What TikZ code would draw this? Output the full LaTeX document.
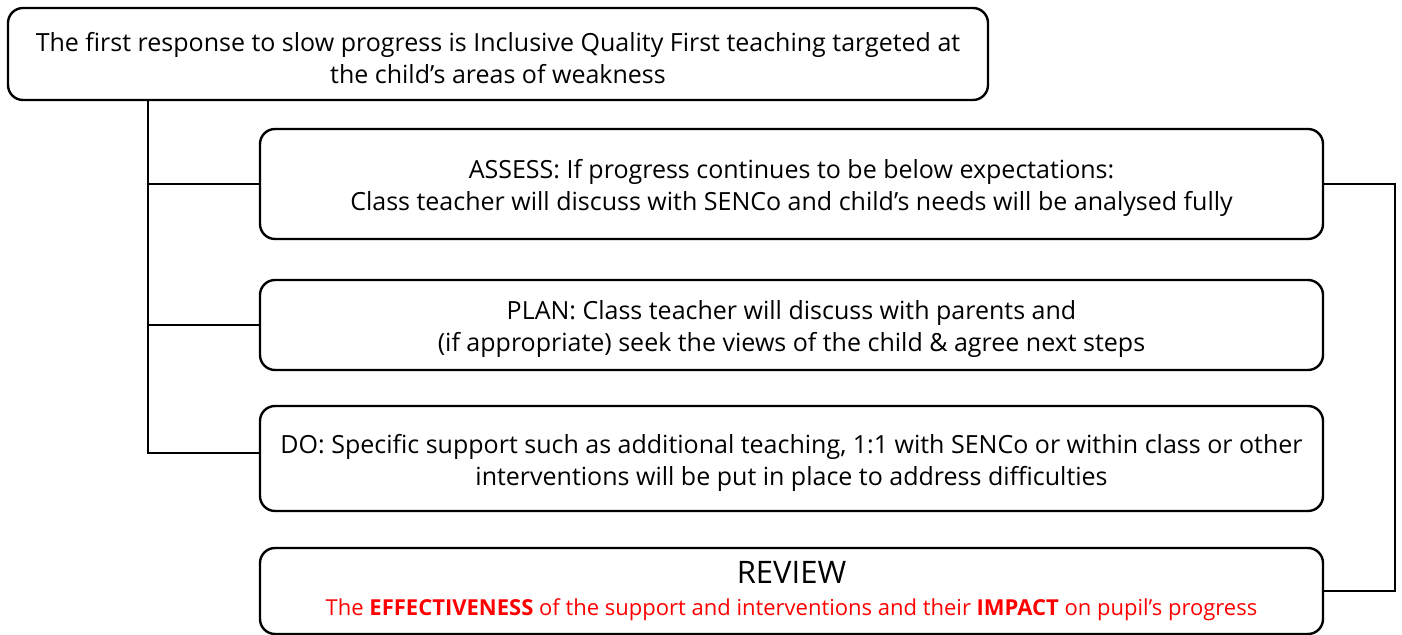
\documentclass[tikz,border=0pt]{standalone}
\usepackage{fontspec}
\setmainfont{Open Sans}
\usetikzlibrary{positioning}

\begin{document}
\begin{tikzpicture}[
    x=0.5pt, y=-0.5pt,
    stage/.style={rectangle, draw=black, line width=1.2pt, rounded corners=7.5pt,
        minimum width=531.5pt, align=center, text=black,
        font=\fontsize{12.5}{16}\selectfont},
    lowered/.style={text height=30pt},
    link/.style={draw=black, line width=1pt}
    ]
    \useasboundingbox (0,0) rectangle (1402,635);
    % the steps of the cycle
    \node (Response) [stage, lowered, minimum width=490pt, minimum height=46pt] at (498,54)
        {The first response to slow progress is Inclusive Quality First teaching targeted at\\
         the child’s areas of weakness};
    \node (Assess) [stage, lowered, minimum height=55pt] at (791.5,184)
        {ASSESS: If progress continues to be below expectations:\\
         Class teacher will discuss with SENCo and child’s needs will be analysed fully};
    \node (Plan) [stage, lowered, minimum height=45pt] at (791.5,325)
        {PLAN: Class teacher will discuss with parents and\\
         (if appropriate) seek the views of the child \& agree next steps};
    \node (Do) [stage, lowered, minimum height=52.5pt] at (791.5,458.5)
        {DO: Specific support such as additional teaching, 1:1 with SENCo or within class or other\\
         interventions will be put in place to address difficulties};
    \node (Review) [stage, minimum height=43pt] at (791.5,591)
        {{\fontsize{15.5}{17}\selectfont REVIEW}\\
         {\fontsize{11}{13}\selectfont\color{red}The \textbf{EFFECTIVENESS} of the support and interventions and their \textbf{IMPACT} on pupil’s progress}};

    % left trunk and branches
    \coordinate (Trunk) at (148,453);
    \draw [link] (Response.south -| Trunk) -- (Trunk) -- (Trunk -| Do.west);
    \draw [link] (Assess.west -| Trunk) -- (Assess.west);
    \draw [link] (Plan.west -| Trunk) -- (Plan.west);

    % loop back from assess to review
    \coordinate (Loop) at (1395,0);
    \draw [link] (Assess.east) -- (Assess.east -| Loop) -- (Review.east -| Loop) -- (Review.east);
\end{tikzpicture}
\end{document}
